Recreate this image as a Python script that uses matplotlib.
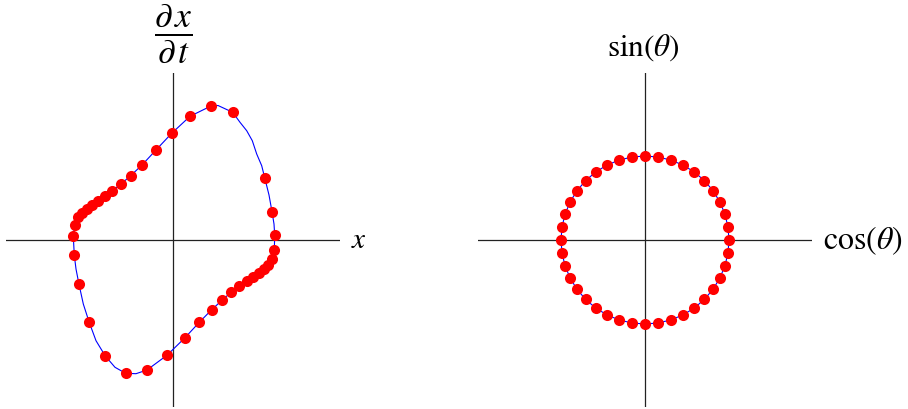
import matplotlib
matplotlib.use("Agg")
import numpy as np
import matplotlib.pyplot as plt

plt.rcParams['mathtext.fontset'] = 'stix'
plt.rcParams['font.family'] = ['STIXGeneral', 'DejaVu Serif']

# sampled points on the limit cycle (x, dx/dt)
cycle_x = [-2.00, -1.972, -1.90, -1.832, -1.732, -1.62, -1.50, -1.366, -1.22, -1.046,
           -0.852, -0.62, -0.352, -0.032, 0.334, 0.754, 1.188, 1.828, 1.974, 2.028,
           2.02, 1.968, 1.90, 1.814, 1.708, 1.588, 1.468, 1.32, 1.154, 0.98,
           0.768, 0.52, 0.228, -0.12, -0.526, -0.952, -1.36, -1.686, -1.886, -1.98]
cycle_y = [0.074, 0.306, 0.454, 0.54, 0.62, 0.70, 0.786, 0.874, 0.986, 1.12,
           1.286, 1.506, 1.794, 2.134, 2.474, 2.68, 2.554, 1.246, 0.566, 0.10,
           -0.20, -0.38, -0.50, -0.586, -0.666, -0.746, -0.826, -0.926, -1.046, -1.20,
           -1.394, -1.646, -1.96, -2.30, -2.60, -2.666, -2.32, -1.634, -0.886, -0.306]

# trajectory traced through the samples
path_x = [-2.00, -1.972, -1.90, -1.832, -1.732, -1.62, -1.50, -1.366, -1.22, -1.046,
          -0.852, -0.62, -0.352, -0.032, 0.334, 0.754, 0.894, 1.188, 1.334, 1.468,
          1.58, 1.668, 1.768, 1.828, 1.914, 1.974, 2.014, 2.028, 2.02, 1.968,
          1.90, 1.814, 1.708, 1.588, 1.468, 1.32, 1.154, 0.98, 0.768, 0.52,
          0.228, -0.12, -0.526, -0.746, -0.952, -1.166, -1.36, -1.546, -1.686, -1.80,
          -1.886, -1.946, -1.98, -2.00]
path_y = [0.074, 0.306, 0.454, 0.54, 0.62, 0.70, 0.786, 0.874, 0.986, 1.12,
          1.286, 1.506, 1.794, 2.134, 2.474, 2.68, 2.69, 2.554, 2.354, 2.186,
          1.986, 1.72, 1.486, 1.246, 0.90, 0.566, 0.32, 0.10, -0.20, -0.38,
          -0.50, -0.586, -0.666, -0.746, -0.826, -0.926, -1.046, -1.20, -1.394, -1.646,
          -1.96, -2.30, -2.60, -2.674, -2.666, -2.546, -2.32, -2.014, -1.634, -1.28,
          -0.886, -0.58, -0.306, 0.074]

# phase angles (degrees) of the points on the unit circle
theta_deg = [0, 9, 18, 27, 36, 45, 54, 63, 72, 81,
             90, 99, 108, 117, 126, 135, 144, 153, 162, 171,
             180, 189, 198, 207, 216, 225, 234, 243, 252, 261,
             270, 279, 288, 297, 306, 315, 324, 333, 342, 351]

W, H = 908, 410
fig = plt.figure(figsize=(W / 100, H / 100), dpi=100)

ax1 = fig.add_axes([6.3 / W, 2 / H, 334 / W, 334 / H])
ax2 = fig.add_axes([478 / W, 2 / H, 334 / W, 334 / H])

lim1 = 3.34
lim2 = 1.988

for ax, lim in ((ax1, lim1), (ax2, lim2)):
    ax.set_xlim(-lim, lim)
    ax.set_ylim(-lim, lim)
    ax.set_axis_off()
    ax.axhline(0, color='#222222', lw=0.9, zorder=1)
    ax.axvline(0, color='#222222', lw=0.9, zorder=1)

ax1.plot(path_x, path_y, color='blue', lw=0.8, zorder=2)
ax1.plot(cycle_x, cycle_y, 'o', color='red', ms=8, mec='none', zorder=3)

th = np.radians(theta_deg + [theta_deg[0]])
ax2.plot(np.cos(th), np.sin(th), color='blue', lw=0.8, zorder=2)
ax2.plot(np.cos(th[:-1]), np.sin(th[:-1]), 'o', color='red', ms=8, mec='none', zorder=3)

ax1.text(0.01, 4.16, r'$\dfrac{\partial\, x}{\partial\, t}$', fontsize=25.5,
         ha='center', va='center', clip_on=False)
ax1.text(3.71, 0.0, r'$x$', fontsize=21, ha='center', va='center', clip_on=False)

ax2.text(-0.02, 2.30, r'$\sin(\theta)$', fontsize=22.5, ha='center', va='center', clip_on=False)
ax2.text(2.119, 0.0, r'$\cos(\theta)$', fontsize=23, ha='left', va='center', clip_on=False)

fig.savefig('out.png', dpi=100)
